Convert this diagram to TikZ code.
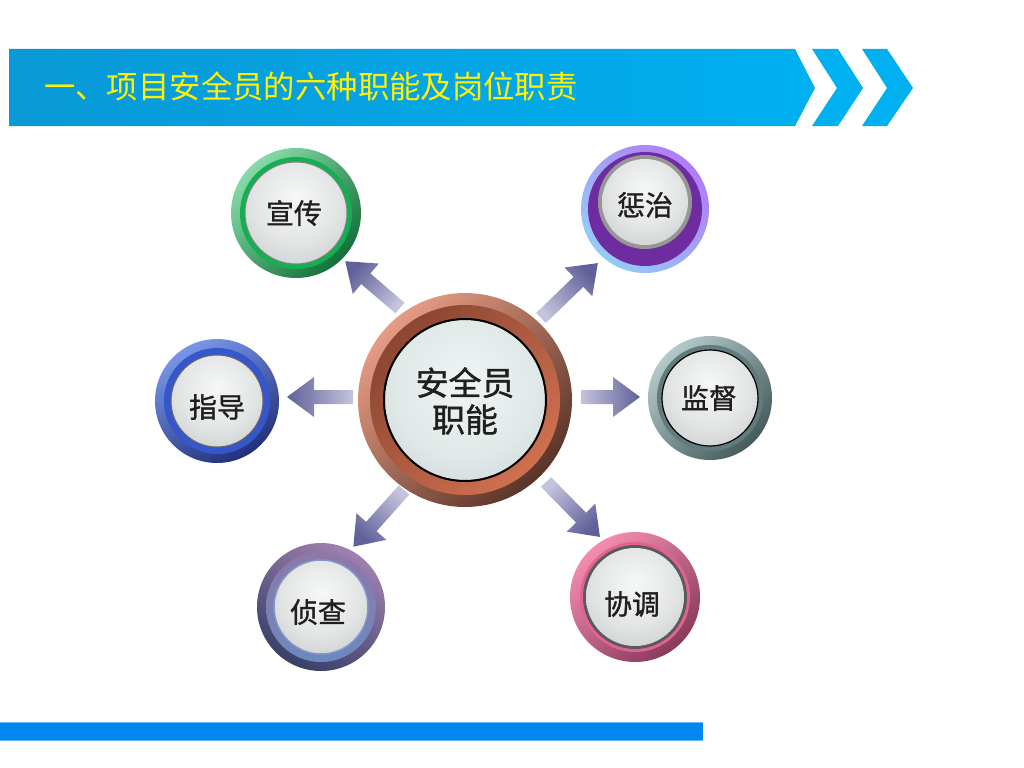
\documentclass[tikz,border=0pt]{standalone}
\usepackage{fontspec}
\newfontfamily\cjk{Noto Sans CJK SC}
\newfontfamily\cjkb[FakeBold=1.2]{Noto Sans CJK SC}
\usetikzlibrary{calc}
\definecolor{bannerL}{HTML}{0A98D6}
\definecolor{bannerR}{HTML}{00B0F0}
\definecolor{barblue}{HTML}{0088EE}
\definecolor{arrowlight}{HTML}{C4C4DC}
\definecolor{arrowdark}{HTML}{60609A}
\definecolor{dA}{HTML}{F6F7F7}
\definecolor{dB}{HTML}{E4E6E6}
\definecolor{dC}{HTML}{C6C9C9}
\definecolor{dD}{HTML}{A4A8A8}
\definecolor{eA}{HTML}{F0F5F5}
\definecolor{eB}{HTML}{E0E8E8}
\definecolor{eC}{HTML}{C8D2D2}
\definecolor{eD}{HTML}{AAB6B6}
\definecolor{cTop}{RGB}{230,156,132}
\definecolor{cBot}{RGB}{90,52,40}
\definecolor{cBandTop}{RGB}{140,70,50}
\definecolor{cBandBot}{RGB}{208,112,80}
\definecolor{gTop}{RGB}{134,220,168}
\definecolor{gBot}{RGB}{20,112,58}
\definecolor{gBand}{RGB}{18,176,80}
\definecolor{pTop}{RGB}{176,124,246}
\definecolor{pBot}{RGB}{148,204,248}
\definecolor{pBand}{RGB}{110,44,160}
\definecolor{pDisc}{RGB}{150,150,150}
\definecolor{bTop}{RGB}{120,150,232}
\definecolor{bBot}{RGB}{34,48,122}
\definecolor{bBand}{RGB}{54,86,204}
\definecolor{tTop}{RGB}{180,202,202}
\definecolor{tBot}{RGB}{70,92,92}
\definecolor{tBand}{RGB}{96,124,124}
\definecolor{vTop}{RGB}{160,128,176}
\definecolor{vBot}{RGB}{56,64,104}
\definecolor{vBandTop}{RGB}{142,120,168}
\definecolor{vBandBot}{RGB}{108,136,192}
\definecolor{vEdge}{RGB}{128,152,200}
\definecolor{kTop}{RGB}{244,140,176}
\definecolor{kBot}{RGB}{138,58,92}
\definecolor{kBand}{RGB}{226,98,148}
\definecolor{kDark}{RGB}{90,90,90}
\pgfdeclareradialshading{discshade}{\pgfpoint{0bp}{8bp}}{color(0bp)=(dA); color(20bp)=(dB); color(38bp)=(dC); color(50bp)=(dD); color(70bp)=(dD)}
\pgfdeclareradialshading{discshadeC}{\pgfpoint{0bp}{6bp}}{color(0bp)=(eA); color(22bp)=(eB); color(40bp)=(eC); color(50bp)=(eD); color(70bp)=(eD)}
\newcommand\blockarrow[3]{%
  \pgfmathsetmacro\shaftlen{#3-27}%
  \path[arrowshade, shading angle={#2-90}]
    ($(#1)+(#2+90:7bp)$) -- ($(#1)+(#2:\shaftlen bp)+(#2+90:7bp)$)
    -- ($(#1)+(#2:\shaftlen bp)+(#2+90:20bp)$) -- ($(#1)+(#2:#3bp)$)
    -- ($(#1)+(#2:\shaftlen bp)+(#2-90:20bp)$) -- ($(#1)+(#2:\shaftlen bp)+(#2-90:7bp)$)
    -- ($(#1)+(#2-90:7bp)$) -- cycle;}
\begin{document}
\begin{tikzpicture}[x=1bp,y=-1bp,
  arrowshade/.style={shading=axis, bottom color=arrowlight, top color=arrowdark},
  outer/.style={circle, inner sep=0pt, minimum size=#1},
  disc/.style={shading=discshade},
  satlabel/.style={font=\cjkb\fontsize{28}{32}\selectfont, text=black!88, inner sep=0pt}]
\useasboundingbox[fill=white] (0,0) rectangle (1024,768);
% header banner
\shade[left color=bannerL, right color=bannerR] (9,49) -- (795,49) -- (815,88) -- (795,126) -- (9,126) -- cycle;
\fill[bannerR] (812,49) -- (838,49) -- (863,88) -- (838,126) -- (812,126) -- (837,88) -- cycle;
\fill[bannerR] (862,49) -- (887,49) -- (913,88) -- (887,126) -- (862,126) -- (887,88) -- cycle;
\node[anchor=west, inner sep=0pt, text=yellow, font=\cjk\fontsize{31.5}{36}\selectfont] (title) at (44,86) {一、项目安全员的六种职能及岗位职责};
% bottom bar
\fill[barblue] (0,722) rectangle (703,740);
\draw[barblue!60!white, line width=0.8bp] (0,722) -- (703,722) (0,740) -- (703,740);
% arrows
\coordinate (a1) at (400,308);
\coordinate (a2) at (541,318);
\coordinate (a3) at (353,397);
\coordinate (a4) at (581,397);
\coordinate (a5) at (404,490);
\coordinate (a6) at (546,482);
\blockarrow{a1}{139.5}{72}
\blockarrow{a2}{44}{79}
\blockarrow{a3}{180}{66}
\blockarrow{a4}{0}{59}
\blockarrow{a5}{228.2}{76}
\blockarrow{a6}{-45.5}{77}
% centre
\node[outer=214bp, shading=axis, top color=cTop, bottom color=cBot, shading angle=45] (ctr) at (465,400) {};
\shade[top color=cBandTop, bottom color=cBandBot, shading angle=45] (ctr) circle (95bp);
\shade[shading=discshadeC] (ctr) circle (80bp);
\draw[black, line width=2bp] (ctr) circle (81bp);
\node[font=\cjkb\fontsize{33}{37}\selectfont, align=center, inner sep=0pt, text=black!88] (ctrtext) at (465,401) {安全员\\职能};
% 宣传
\node[outer=130bp, shading=axis, top color=gTop, bottom color=gBot, shading angle=45] (s1) at (296,213) {};
\fill[gBand] (s1) circle (56bp);
\shade[disc] (s1) circle (51bp);
\draw[gray, line width=1bp] (s1) circle (51bp);
\node[satlabel] (t1) at (294,213) {宣传};
% 惩治
\node[outer=128bp, shading=axis, top color=pTop, bottom color=pBot, shading angle=-45] (s2) at (645,209) {};
\fill[pBand] (s2) circle (57bp);
\coordinate (s2d) at (645,202);
\fill[pDisc] (s2d) circle (47bp);
\shade[disc] (s2d) circle (43bp);
\node[satlabel] (t2) at (645,205) {惩治};
% 指导
\node[outer=124bp, shading=axis, top color=bTop, bottom color=bBot, shading angle=30] (s3) at (217,401) {};
\fill[bBand] (s3) circle (53bp);
\shade[disc] (s3) circle (46bp);
\draw[gray!80!black, line width=1bp] (s3) circle (46bp);
\node[satlabel] (t3) at (217,407) {指导};
% 监督
\node[outer=124bp, shading=axis, top color=tTop, bottom color=tBot, shading angle=45] (s4) at (710,398) {};
\fill[tBand] (s4) circle (53bp);
\shade[disc] (s4) circle (48bp);
\draw[black, line width=1.2bp] (s4) circle (48bp);
\node[satlabel] (t4) at (709,398) {监督};
% 侦查
\node[outer=128bp, shading=axis, top color=vTop, bottom color=vBot, shading angle=-30] (s5) at (321,607) {};
\shade[top color=vBandTop, bottom color=vBandBot] (s5) circle (55bp);
\shade[disc] (s5) circle (47bp);
\draw[vEdge, line width=1.5bp] (s5) circle (47bp);
\node[satlabel] (t5) at (318,612) {侦查};
% 协调
\node[outer=130bp, shading=axis, top color=kTop, bottom color=kBot, shading angle=40] (s6) at (635,597) {};
\fill[kBand] (s6) circle (55bp);
\fill[kDark] (s6) circle (52bp);
\shade[disc] (s6) circle (49bp);
\node[satlabel] (t6) at (632,604) {协调};
\end{tikzpicture}
\end{document}
